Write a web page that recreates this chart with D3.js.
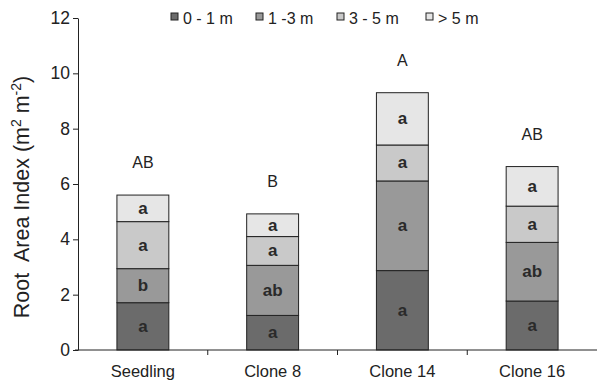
<!DOCTYPE html>
<html>
<head>
<meta charset="utf-8">
<script src="https://cdn.jsdelivr.net/npm/d3@7"></script>
<style>
  body { margin: 0; background: #fff; }
  svg { display: block; font-family: Arial, "Liberation Sans", sans-serif; }
</style>
</head>
<body>
<svg id="chart" width="597" height="384"></svg>
<script>
// ── Data ─────────────────────────────────────────────────────────────
const categories = ['Seedling', 'Clone 8', 'Clone 14', 'Clone 16'];
const depthKeys = ['0 - 1 m', '1 -3 m', '3 - 5 m', '> 5 m'];
const depth0to1 = [1.71, 1.25, 2.87, 1.77];
const depth1to3 = [1.23, 1.81, 3.24, 2.12];
const depth3to5 = [1.70, 1.04, 1.30, 1.31];
const depthOver5 = [0.96, 0.82, 1.89, 1.43];
const segLetters = [
  ['a', 'b', 'a', 'a'],
  ['a', 'ab', 'a', 'a'],
  ['a', 'a', 'a', 'a'],
  ['a', 'ab', 'a', 'a']
];
const groupLetters = ['AB', 'B', 'A', 'AB'];
const yTicks = [0, 2, 4, 6, 8, 10, 12];

const COLORS = ['#6b6b6b', '#999999', '#c9c9c9', '#e6e6e6'];

// ── Layout ───────────────────────────────────────────────────────────
const svg = d3.select('#chart');
const margin = { left: 78, right: 0, top: 18, bottom: 34 };
const width = 597, height = 384;

const x = d3.scaleBand()
  .domain(categories)
  .range([margin.left, width - margin.right])
  .paddingInner(0.6)
  .paddingOuter(0.3);

const y = d3.scaleLinear()
  .domain([0, 12])
  .range([height - margin.bottom, margin.top]);

const rows = categories.map((c, i) => ({
  cat: c,
  [depthKeys[0]]: depth0to1[i],
  [depthKeys[1]]: depth1to3[i],
  [depthKeys[2]]: depth3to5[i],
  [depthKeys[3]]: depthOver5[i]
}));
const stacked = d3.stack().keys(depthKeys)(rows);

// ── Bars ─────────────────────────────────────────────────────────────
stacked.forEach((layer, li) => {
  const g = svg.append('g');
  g.selectAll('rect')
    .data(layer)
    .join('rect')
    .attr('x', d => x(d.data.cat))
    .attr('y', d => y(d[1]))
    .attr('width', x.bandwidth())
    .attr('height', d => y(d[0]) - y(d[1]))
    .attr('fill', COLORS[li])
    .attr('stroke', '#222')
    .attr('stroke-width', 1);

  g.selectAll('text')
    .data(layer)
    .join('text')
    .attr('x', d => x(d.data.cat) + x.bandwidth() / 2)
    .attr('y', d => (y(d[0]) + y(d[1])) / 2 + 5.5)
    .attr('text-anchor', 'middle')
    .attr('font-size', 17)
    .attr('font-weight', 'bold')
    .attr('fill', '#2a2a2a')
    .text((d, i) => segLetters[i][li]);
});

// group letters above bars
const topLayer = stacked[stacked.length - 1];
svg.append('g').selectAll('text')
  .data(topLayer)
  .join('text')
  .attr('x', d => x(d.data.cat) + x.bandwidth() / 2)
  .attr('y', d => y(d[1]) - 27)
  .attr('text-anchor', 'middle')
  .attr('font-size', 16)
  .attr('fill', '#222')
  .text((d, i) => groupLetters[i]);

// ── Axes ─────────────────────────────────────────────────────────────
const yAxis = svg.append('g')
  .attr('transform', `translate(${margin.left},0)`)
  .call(d3.axisLeft(y).tickValues(yTicks).tickSize(5).tickPadding(3).tickSizeOuter(0));
yAxis.select('.domain').attr('stroke', '#222');
yAxis.selectAll('line').attr('stroke', '#222');
yAxis.selectAll('text').attr('font-size', 17.5).attr('fill', '#222').attr('font-family', 'Arial, "Liberation Sans", sans-serif');

const xBase = y(0);
svg.append('line')
  .attr('x1', margin.left - 3).attr('x2', width)
  .attr('y1', xBase).attr('y2', xBase)
  .attr('stroke', '#222');

// boundary ticks between categories
const gap = (x.step() - x.bandwidth()) / 2;
svg.append('g').selectAll('line')
  .data(categories.slice(1))
  .join('line')
  .attr('x1', d => x(d) - gap)
  .attr('x2', d => x(d) - gap)
  .attr('y1', xBase).attr('y2', xBase + 5)
  .attr('stroke', '#222');

svg.append('g').selectAll('text')
  .data(categories)
  .join('text')
  .attr('x', d => x(d) + x.bandwidth() / 2)
  .attr('y', xBase + 27)
  .attr('text-anchor', 'middle')
  .attr('font-size', 16.5)
  .attr('fill', '#222')
  .text(d => d);

// y label
const yl = svg.append('text')
  .attr('transform', 'translate(29,197) rotate(-90)')
  .attr('text-anchor', 'middle')
  .attr('font-size', 21.5)
  .attr('fill', '#222')
  .attr('xml:space', 'preserve');
yl.append('tspan').text('Root\u00a0 Area Index (m');
yl.append('tspan').attr('baseline-shift', 'super').attr('font-size', 14).text('2');
yl.append('tspan').text(' m');
yl.append('tspan').attr('baseline-shift', 'super').attr('font-size', 14).text('-2');
yl.append('tspan').text(')');

// ── Legend ───────────────────────────────────────────────────────────
const legendX = [171, 256, 337, 426];
const legend = svg.append('g').selectAll('g')
  .data(depthKeys)
  .join('g')
  .attr('transform', (d, i) => `translate(${legendX[i]},13)`);
legend.append('rect')
  .attr('width', 7).attr('height', 7)
  .attr('fill', (d, i) => COLORS[i])
  .attr('stroke', '#222');
legend.append('text')
  .attr('x', 12).attr('y', 11)
  .attr('font-size', 16)
  .attr('fill', '#222')
  .text(d => d);
</script>
</body>
</html>
